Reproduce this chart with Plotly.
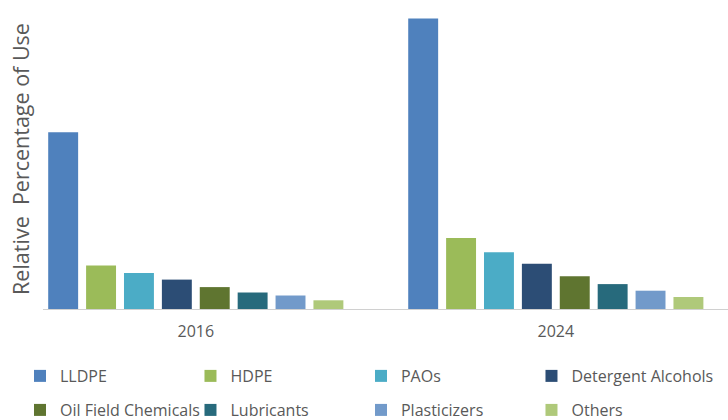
import plotly.graph_objects as go

# Data
years = ["2016", "2024"]
segments = ["LLDPE", "HDPE", "PAOs", "Detergent Alcohols",
            "Oil Field Chemicals", "Lubricants", "Plasticizers", "Others"]
share_2016 = [58.9, 14.5, 12.0, 9.8, 7.3, 5.5, 4.5, 2.9]
share_2024 = [96.8, 23.7, 18.9, 15.1, 10.9, 8.3, 6.1, 4.0]

colors = ["#4F81BD", "#9BBB59", "#4BACC6", "#2C4D75",
          "#5F7530", "#276A7C", "#729ACA", "#AFC97A"]

TEXT = "#595959"
FONT = "Open Sans, Noto Sans, sans-serif"

fig = go.Figure()
for i, name in enumerate(segments):
    last_in_row = i in (3, 7)
    fig.add_trace(go.Bar(
        name=name,
        x=years,
        y=[share_2016[i], share_2024[i]],
        marker=dict(color=colors[i], line=dict(width=0)),
        legend="legend" if i < 4 else "legend2",
        legendwidth=165 if last_in_row else None,
        hoverinfo="x+y+name",
    ))

legend_common = dict(
    orientation="h",
    xanchor="left",
    yanchor="middle",
    x=-0.0336,
    entrywidth=125.5,
    entrywidthmode="pixels",
    font=dict(family=FONT, size=16, color=TEXT),
    bgcolor="rgba(0,0,0,0)",
    itemclick=False,
    itemdoubleclick=False,
)

fig.update_layout(
    width=728,
    height=420,
    paper_bgcolor="white",
    plot_bgcolor="white",
    barmode="group",
    bargap=0.158,
    bargroupgap=0.21,
    margin=dict(l=43, r=0, t=9, b=111, autoexpand=False),
    font=dict(family=FONT, color=TEXT),
    legend=dict(legend_common, y=-0.2233),
    legend2=dict(legend_common, y=-0.3367),
    xaxis=dict(
        type="category",
        range=[-0.4244, 1.4783],
        showline=True,
        linecolor="#D0D0D0",
        linewidth=1,
        ticks="",
        showgrid=False,
        tickfont=dict(family=FONT, size=16, color=TEXT),
        ticklabelstandoff=8,
    ),
    yaxis=dict(
        range=[0, 100],
        showticklabels=False,
        showgrid=False,
        zeroline=False,
        showline=False,
        ticks="",
        title=dict(text="Relative  Percentage of Use",
                   font=dict(family=FONT, size=21.5, color=TEXT),
                   standoff=6),
    ),
)

fig.write_html("out.html")
